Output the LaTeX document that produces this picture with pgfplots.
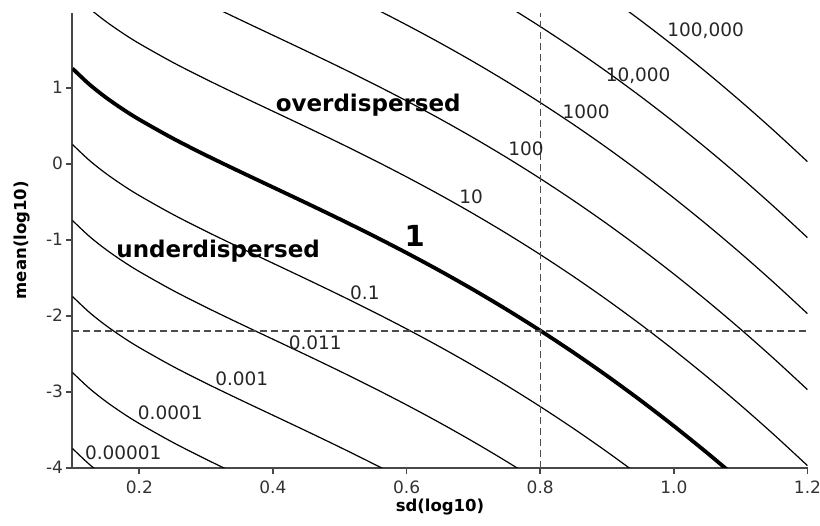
\documentclass[border=0pt]{standalone}
\usepackage{pgfplots}
\pgfplotsset{compat=1.18}
\usepackage{pgfplotstable}
\usepackage{fontspec}
\setmainfont{DejaVu Sans}

% contour lines of log10(variance/mean) = k, k = -5 ... 5
\pgfplotstableread{
x     m5      m4      m3      m2      m1      z       p1      p2      p3      p4      p5
0.100 -3.7475 -2.7475 -1.7475 -0.7475 0.2525  1.2525  2.2525  3.2525  4.2525  5.2525  6.2525
0.125 -3.9543 -2.9543 -1.9543 -0.9543 0.0457  1.0457  2.0457  3.0457  4.0457  5.0457  6.0457
0.150 -4.1287 -3.1287 -2.1287 -1.1287 -0.1287 0.8713  1.8713  2.8713  3.8713  4.8713  5.8713
0.175 -4.2815 -3.2815 -2.2815 -1.2815 -0.2815 0.7185  1.7185  2.7185  3.7185  4.7185  5.7185
0.200 -4.4194 -3.4194 -2.4194 -1.4194 -0.4194 0.5806  1.5806  2.5806  3.5806  4.5806  5.5806
0.250 -4.6662 -3.6662 -2.6662 -1.6662 -0.6662 0.3338  1.3338  2.3338  3.3338  4.3338  5.3338
0.300 -4.8900 -3.8900 -2.8900 -1.8900 -0.8900 0.1100  1.1100  2.1100  3.1100  4.1100  5.1100
0.350 -5.1022 -4.1022 -3.1022 -2.1022 -1.1022 -0.1022 0.8978  1.8978  2.8978  3.8978  4.8978
0.400 -5.3099 -4.3099 -3.3099 -2.3099 -1.3099 -0.3099 0.6901  1.6901  2.6901  3.6901  4.6901
0.450 -5.5178 -4.5178 -3.5178 -2.5178 -1.5178 -0.5178 0.4822  1.4822  2.4822  3.4822  4.4822
0.500 -5.7294 -4.7294 -3.7294 -2.7294 -1.7294 -0.7294 0.2706  1.2706  2.2706  3.2706  4.2706
0.550 -5.9473 -4.9473 -3.9473 -2.9473 -1.9473 -0.9473 0.0527  1.0527  2.0527  3.0527  4.0527
0.600 -6.1737 -5.1737 -4.1737 -3.1737 -2.1737 -1.1737 -0.1737 0.8263  1.8263  2.8263  3.8263
0.650 -6.4104 -5.4104 -4.4104 -3.4104 -2.4104 -1.4104 -0.4104 0.5896  1.5896  2.5896  3.5896
0.700 -6.6588 -5.6588 -4.6588 -3.6588 -2.6588 -1.6588 -0.6588 0.3412  1.3412  2.3412  3.3412
0.750 -6.9202 -5.9202 -4.9202 -3.9202 -2.9202 -1.9202 -0.9202 0.0798  1.0798  2.0798  3.0798
0.800 -7.1956 -6.1956 -5.1956 -4.1956 -3.1956 -2.1956 -1.1956 -0.1956 0.8044  1.8044  2.8044
0.850 -7.4859 -6.4859 -5.4859 -4.4859 -3.4859 -2.4859 -1.4859 -0.4859 0.5141  1.5141  2.5141
0.900 -7.7917 -6.7917 -5.7917 -4.7917 -3.7917 -2.7917 -1.7917 -0.7917 0.2083  1.2083  2.2083
0.950 -8.1135 -7.1135 -6.1135 -5.1135 -4.1135 -3.1135 -2.1135 -1.1135 -0.1135 0.8865  1.8865
1.000 -8.4517 -7.4517 -6.4517 -5.4517 -4.4517 -3.4517 -2.4517 -1.4517 -0.4517 0.5483  1.5483
1.050 -8.8067 -7.8067 -6.8067 -5.8067 -4.8067 -3.8067 -2.8067 -1.8067 -0.8067 0.1933  1.1933
1.100 -9.1785 -8.1785 -7.1785 -6.1785 -5.1785 -4.1785 -3.1785 -2.1785 -1.1785 -0.1785 0.8215
1.150 -9.5674 -8.5674 -7.5674 -6.5674 -5.5674 -4.5674 -3.5674 -2.5674 -1.5674 -0.5674 0.4326
1.200 -9.9734 -8.9734 -7.9734 -6.9734 -5.9734 -4.9734 -3.9734 -2.9734 -1.9734 -0.9734 0.0266
}\contours

\begin{document}
\begin{tikzpicture}
\useasboundingbox (-72.5pt,-58.3pt) rectangle (747.5pt,467.7pt);
\begin{axis}[
  at={(0pt,0pt)}, anchor=south west,
  scale only axis, width=735pt, height=455pt,
  xmin=0.1, xmax=1.2, ymin=-4, ymax=1.987,
  axis x line*=bottom, axis y line*=left,
  axis line style={draw=black!72, line width=2pt},
  tick style={draw=black!72, line width=1.8pt},
  tick align=outside, major tick length=6pt,
  xtick={0.2,0.4,0.6,0.8,1.0,1.2},
  xticklabels={0.2,0.4,0.6,0.8,1.0,1.2},
  ytick={-4,-3,-2,-1,0,1},
  yticklabels={-4,-3,-2,-1,0,1},
  ticklabel style={font=\fontsize{17}{20}\selectfont, text=black!80},
  xticklabel style={yshift=-4pt},
  xlabel={sd(log10)}, ylabel={mean(log10)},
  every axis x label/.style={at={(axis description cs:0.5,0)}, anchor=base, yshift=-44pt, font=\bfseries\fontsize{16.5}{20}\selectfont},
  every axis y label/.style={at={(axis description cs:0,0.5)}, xshift=-50.5pt, rotate=90, anchor=center, font=\bfseries\fontsize{16.5}{20}\selectfont},
  thinc/.style={black, line width=1.2pt, smooth, no markers},
]
\addplot[thinc] table[x=x,y=m5]{\contours};
\addplot[thinc] table[x=x,y=m4]{\contours};
\addplot[thinc] table[x=x,y=m3]{\contours};
\addplot[thinc] table[x=x,y=m2]{\contours};
\addplot[thinc] table[x=x,y=m1]{\contours};
\addplot[black, line width=3.8pt, smooth, no markers] table[x=x,y=z]{\contours};
\addplot[thinc] table[x=x,y=p1]{\contours};
\addplot[thinc] table[x=x,y=p2]{\contours};
\addplot[thinc] table[x=x,y=p3]{\contours};
\addplot[thinc] table[x=x,y=p4]{\contours};
\addplot[thinc] table[x=x,y=p5]{\contours};
% reference lines
\addplot[black!70, line width=1.3pt, dash pattern=on 7pt off 4pt] coordinates {(0.8,-4) (0.8,1.987)};
\addplot[black!70, line width=1.3pt, dash pattern=on 7pt off 4pt] coordinates {(0.1,-2.2) (1.2,-2.2)};
% labels
\begin{scope}[every node/.style={font=\fontsize{18.5}{20}\selectfont, text=black!85, anchor=base, inner sep=0pt}]
\node at (axis cs:1.0475,1.671) {100,000};
\node at (axis cs:0.9465,1.088) {10,000};
\node at (axis cs:0.8687,0.597) {1000};
\node at (axis cs:0.7788,0.114) {100};
\node at (axis cs:0.6965,-0.521) {10};
\node at (axis cs:0.5376,-1.793) {0.1};
\node at (axis cs:0.4633,-2.442) {0.011};
\node at (axis cs:0.3533,-2.921) {0.001};
\node at (axis cs:0.2463,-3.372) {0.0001};
\node at (axis cs:0.176,-3.889) {0.00001};
\node[font=\bfseries\fontsize{29}{30}\selectfont, text=black] at (axis cs:0.612,-1.092) {1};
\node[font=\bfseries\fontsize{23}{26}\selectfont, text=black] at (axis cs:0.5426,0.684) {overdispersed};
\node[font=\bfseries\fontsize{23}{26}\selectfont, text=black] at (axis cs:0.318,-1.23) {underdispersed};
\end{scope}
\end{axis}
\end{tikzpicture}
\end{document}
